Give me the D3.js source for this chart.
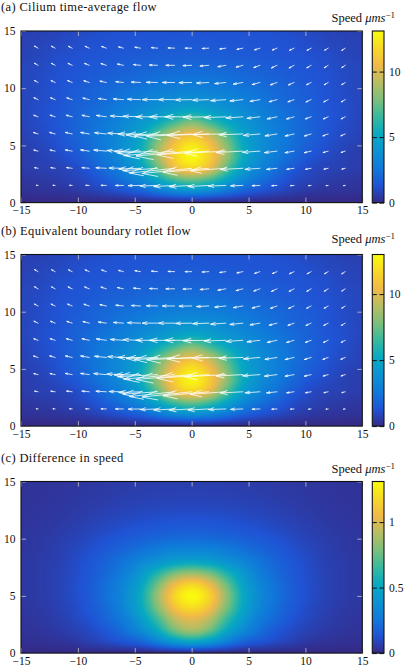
<!DOCTYPE html>
<html>
<head>
<meta charset="utf-8">
<script src="https://cdn.jsdelivr.net/npm/d3@7"></script>
<style>
  body { margin: 0; background: #fff; }
  svg { display: block; }
  svg text { font-family: "Liberation Serif", "DejaVu Serif", "Times New Roman", serif !important; fill: #111; }
</style>
</head>
<body>
<svg id="chart" width="404" height="667"></svg>
<script>
// ---------------- data ----------------
const titles = ["(a) Cilium time-average flow", "(b) Equivalent boundary rotlet flow", "(c) Difference in speed"];
const xTicks = [-15, -10, -5, 0, 5, 10, 15];
const yTicks = [0, 5, 10, 15];
const cbarTicksSpeed = [0, 5, 10];
const cbarTicksDiff = [0, 0.5, 1];
const cbarMax = [13.1, 13.0, 1.31];

// speed field samples (µm/s): rows y = 0,1,...,15 ; columns x = -15,-13.5,...,15
const heatX = [-15, -13.5, -12, -10.5, -9, -7.5, -6, -4.5, -3, -1.5, 0, 1.5, 3, 4.5, 6, 7.5, 9, 10.5, 12, 13.5, 15];
const heatY = [0, 1, 2, 3, 4, 5, 6, 7, 8, 9, 10, 11, 12, 13, 14, 15];

const speedA = [
  [0,0,0,0,0,0,0,0,0,0,0,0,0,0,0,0,0,0,0,0,0],
  [0.25,0.3,0.35,0.45,0.65,0.95,1.3,1.8,2.6,3.4,3.8,3.4,2.6,1.8,1.3,0.95,0.65,0.45,0.35,0.3,0.25],
  [0.4,0.5,0.6,0.8,1.1,1.7,2.4,3.4,5.1,6.8,7.6,6.8,5.1,3.4,2.4,1.7,1.1,0.8,0.6,0.5,0.4],
  [0.6,0.7,0.8,1.0,1.5,2.3,3.2,4.6,7.3,10.5,11.6,10.5,7.3,4.6,3.2,2.3,1.5,1.0,0.8,0.7,0.6],
  [0.6,0.75,1.0,1.35,2.0,2.7,3.7,5.4,8.6,11.5,13.0,11.5,8.6,5.4,3.7,2.7,2.0,1.35,1.0,0.75,0.6],
  [0.7,0.88,1.2,1.65,2.2,2.9,3.8,5.3,8.3,11.0,12.4,11.0,8.3,5.3,3.8,2.9,2.2,1.65,1.2,0.88,0.7],
  [0.8,1.0,1.3,1.8,2.3,2.9,3.7,4.8,7.1,9.5,10.6,9.5,7.1,4.8,3.7,2.9,2.3,1.8,1.3,1.0,0.8],
  [0.85,1.1,1.4,1.8,2.25,2.75,3.4,4.2,5.3,6.8,8.0,6.8,5.3,4.2,3.4,2.75,2.25,1.8,1.4,1.1,0.85],
  [0.9,1.15,1.4,1.75,2.1,2.5,3.0,3.55,4.1,4.75,5.2,4.75,4.1,3.55,3.0,2.5,2.1,1.75,1.4,1.15,0.9],
  [0.9,1.1,1.3,1.65,1.9,2.2,2.6,3.0,3.4,3.75,3.9,3.75,3.4,3.0,2.6,2.2,1.9,1.65,1.3,1.1,0.9],
  [0.9,1.05,1.3,1.55,1.78,2.05,2.3,2.5,2.75,2.9,3.0,2.9,2.75,2.5,2.3,2.05,1.78,1.55,1.3,1.05,0.9],
  [0.9,1.05,1.25,1.38,1.55,1.75,1.95,2.1,2.3,2.4,2.45,2.4,2.3,2.1,1.95,1.75,1.55,1.38,1.25,1.05,0.9],
  [0.88,1.0,1.18,1.33,1.45,1.58,1.7,1.82,1.9,1.97,2.0,1.97,1.9,1.82,1.7,1.58,1.45,1.33,1.18,1.0,0.88],
  [0.8,0.9,1.1,1.22,1.33,1.4,1.48,1.56,1.63,1.68,1.7,1.68,1.63,1.56,1.48,1.4,1.33,1.22,1.1,0.9,0.8],
  [0.75,0.85,0.95,1.1,1.22,1.31,1.35,1.4,1.45,1.48,1.5,1.48,1.45,1.4,1.35,1.31,1.22,1.1,0.95,0.85,0.75],
  [0.68,0.75,0.85,0.98,1.1,1.2,1.29,1.31,1.33,1.34,1.35,1.34,1.33,1.31,1.29,1.2,1.1,0.98,0.85,0.75,0.68]
];

const speedB = [
  [0,0,0,0,0,0,0,0,0,0,0,0,0,0,0,0,0,0,0,0,0],
  [0.25,0.3,0.35,0.45,0.65,0.95,1.28,1.75,2.5,3.25,3.6,3.25,2.5,1.75,1.28,0.95,0.65,0.45,0.35,0.3,0.25],
  [0.4,0.5,0.6,0.8,1.1,1.7,2.35,3.3,4.9,6.5,7.3,6.5,4.9,3.3,2.35,1.7,1.1,0.8,0.6,0.5,0.4],
  [0.6,0.7,0.8,1.0,1.5,2.3,3.15,4.5,7.1,10.2,11.3,10.2,7.1,4.5,3.15,2.3,1.5,1.0,0.8,0.7,0.6],
  [0.6,0.75,1.0,1.35,2.0,2.7,3.65,5.3,8.4,11.3,12.8,11.3,8.4,5.3,3.65,2.7,2.0,1.35,1.0,0.75,0.6],
  [0.7,0.88,1.2,1.65,2.2,2.9,3.75,5.15,8.0,10.7,12.1,10.7,8.0,5.15,3.75,2.9,2.2,1.65,1.2,0.88,0.7],
  [0.8,1.0,1.3,1.8,2.3,2.9,3.65,4.65,6.9,9.2,10.3,9.2,6.9,4.65,3.65,2.9,2.3,1.8,1.3,1.0,0.8],
  [0.85,1.1,1.4,1.8,2.25,2.75,3.35,4.1,5.15,6.6,7.75,6.6,5.15,4.1,3.35,2.75,2.25,1.8,1.4,1.1,0.85],
  [0.9,1.15,1.4,1.75,2.1,2.5,2.95,3.5,4.0,4.65,5.05,4.65,4.0,3.5,2.95,2.5,2.1,1.75,1.4,1.15,0.9],
  [0.9,1.1,1.3,1.65,1.9,2.2,2.6,3.0,3.4,3.75,3.9,3.75,3.4,3.0,2.6,2.2,1.9,1.65,1.3,1.1,0.9],
  [0.9,1.05,1.3,1.55,1.78,2.05,2.3,2.5,2.75,2.9,3.0,2.9,2.75,2.5,2.3,2.05,1.78,1.55,1.3,1.05,0.9],
  [0.9,1.05,1.25,1.38,1.55,1.75,1.95,2.1,2.3,2.4,2.45,2.4,2.3,2.1,1.95,1.75,1.55,1.38,1.25,1.05,0.9],
  [0.88,1.0,1.18,1.33,1.45,1.58,1.7,1.82,1.9,1.97,2.0,1.97,1.9,1.82,1.7,1.58,1.45,1.33,1.18,1.0,0.88],
  [0.8,0.9,1.1,1.22,1.33,1.4,1.48,1.56,1.63,1.68,1.7,1.68,1.63,1.56,1.48,1.4,1.33,1.22,1.1,0.9,0.8],
  [0.75,0.85,0.95,1.1,1.22,1.31,1.35,1.4,1.45,1.48,1.5,1.48,1.45,1.4,1.35,1.31,1.22,1.1,0.95,0.85,0.75],
  [0.68,0.75,0.85,0.98,1.1,1.2,1.29,1.31,1.33,1.34,1.35,1.34,1.33,1.31,1.29,1.2,1.1,0.98,0.85,0.75,0.68]
];

const speedDiff = [
  [0,0,0,0,0,0,0,0,0,0,0,0,0,0,0,0,0,0,0,0,0],
  [0.02,0.02,0.03,0.04,0.07,0.1,0.14,0.19,0.3,0.43,0.5,0.43,0.3,0.19,0.14,0.1,0.07,0.04,0.03,0.02,0.02],
  [0.03,0.035,0.05,0.07,0.1,0.15,0.23,0.35,0.53,0.77,0.88,0.77,0.53,0.35,0.23,0.15,0.1,0.07,0.05,0.035,0.03],
  [0.035,0.045,0.06,0.09,0.13,0.2,0.28,0.44,0.67,0.93,1.02,0.93,0.67,0.44,0.28,0.2,0.13,0.09,0.06,0.045,0.035],
  [0.04,0.05,0.07,0.1,0.15,0.22,0.33,0.51,0.8,1.09,1.2,1.09,0.8,0.51,0.33,0.22,0.15,0.1,0.07,0.05,0.04],
  [0.045,0.055,0.075,0.11,0.16,0.24,0.34,0.53,0.85,1.17,1.31,1.17,0.85,0.53,0.34,0.24,0.16,0.11,0.075,0.055,0.045],
  [0.045,0.055,0.075,0.11,0.16,0.23,0.33,0.49,0.77,1.05,1.17,1.05,0.77,0.49,0.33,0.23,0.16,0.11,0.075,0.055,0.045],
  [0.045,0.055,0.075,0.105,0.15,0.21,0.29,0.42,0.6,0.78,0.85,0.78,0.6,0.42,0.29,0.21,0.15,0.105,0.075,0.055,0.045],
  [0.045,0.055,0.07,0.1,0.14,0.19,0.25,0.33,0.4,0.47,0.5,0.47,0.4,0.33,0.25,0.19,0.14,0.1,0.07,0.055,0.045],
  [0.04,0.05,0.065,0.09,0.12,0.16,0.2,0.24,0.29,0.32,0.33,0.32,0.29,0.24,0.2,0.16,0.12,0.09,0.065,0.05,0.04],
  [0.04,0.045,0.06,0.078,0.1,0.13,0.155,0.18,0.2,0.215,0.22,0.215,0.2,0.18,0.155,0.13,0.1,0.078,0.06,0.045,0.04],
  [0.036,0.042,0.052,0.066,0.082,0.1,0.12,0.135,0.148,0.157,0.16,0.157,0.148,0.135,0.12,0.1,0.082,0.066,0.052,0.042,0.036],
  [0.033,0.038,0.045,0.056,0.068,0.08,0.093,0.104,0.113,0.119,0.12,0.119,0.113,0.104,0.093,0.08,0.068,0.056,0.045,0.038,0.033],
  [0.03,0.034,0.04,0.047,0.056,0.066,0.075,0.082,0.087,0.09,0.09,0.09,0.087,0.082,0.075,0.066,0.056,0.047,0.04,0.034,0.03],
  [0.028,0.031,0.036,0.042,0.049,0.056,0.063,0.068,0.072,0.074,0.075,0.074,0.072,0.068,0.063,0.056,0.049,0.042,0.036,0.031,0.028],
  [0.026,0.029,0.033,0.038,0.044,0.05,0.055,0.059,0.062,0.064,0.065,0.064,0.062,0.059,0.055,0.05,0.044,0.038,0.033,0.029,0.026]
];

// quiver arrows: tails at (arrowX, arrowY); speed (µm/s) and direction (deg above the leftward direction)
const arrowX = [-13.5, -12, -10.5, -9, -7.5, -6, -4.5, -3, -1.5, 0, 1.5, 3, 4.5, 6, 7.5, 9, 10.5, 12, 13.5];
const arrowY = [1.5, 3, 4.5, 6, 7.5, 9, 10.5, 12, 13.5];
const arrowSpeed = [
  [0.4, 0.5, 0.6, 0.8, 1.2, 1.8, 2.8, 4.0, 4.8, 5.2, 4.8, 4.0, 2.8, 1.8, 1.2, 0.8, 0.6, 0.5, 0.4],
  [0.8, 1.0, 1.3, 1.7, 2.4, 3.3, 5.0, 8.0, 10.5, 11.5, 10.6, 8.2, 5.2, 3.4, 2.4, 1.7, 1.3, 1.0, 0.8],
  [1.0, 1.2, 1.6, 2.0, 2.9, 3.8, 6.0, 9.2, 11.8, 12.9, 12.0, 9.5, 6.2, 4.0, 2.9, 2.1, 1.6, 1.2, 1.0],
  [1.1, 1.3, 1.6, 2.0, 2.7, 3.6, 5.2, 7.2, 9.3, 10.4, 9.6, 7.8, 5.5, 3.8, 2.8, 2.1, 1.6, 1.3, 1.1],
  [1.05, 1.2, 1.4, 1.7, 2.3, 3.0, 4.0, 5.0, 5.8, 6.2, 5.9, 5.0, 3.9, 3.0, 2.3, 1.8, 1.4, 1.2, 1.05],
  [1.05, 1.15, 1.3, 1.5, 1.85, 2.3, 3.0, 3.5, 3.7, 3.7, 3.7, 3.5, 3.0, 2.3, 1.85, 1.5, 1.3, 1.15, 1.05],
  [0.95, 1.05, 1.15, 1.3, 1.5, 1.75, 2.1, 2.55, 2.8, 2.9, 2.8, 2.55, 2.2, 1.85, 1.6, 1.4, 1.15, 1.05, 0.95],
  [0.95, 0.95, 1.05, 1.15, 1.3, 1.4, 1.6, 1.85, 2.0, 2.0, 2.0, 1.85, 1.6, 1.5, 1.4, 1.3, 1.15, 1.05, 0.95],
  [0.95, 0.95, 0.95, 1.05, 1.15, 1.15, 1.3, 1.4, 1.5, 1.5, 1.5, 1.4, 1.4, 1.3, 1.15, 1.15, 1.05, 0.95, 0.95]
];
const arrowAngle = [
  [5, 4, 3, 2, 1, 0, -1, -2, -3, -3, -3, -2, -2, -2, -3, -4, -5, -6, -7],
  [10, 8, 7, 5, 3, 1, -2, -4, -6, -6, -5, -4, -3, -4, -6, -8, -10, -12, -14],
  [14, 12, 10, 8, 5, 2, -1, -3, -5, -5, -4, -3, -3, -4, -7, -10, -13, -16, -18],
  [18, 16, 13, 10, 6, 3, 0, -2, -3, -3, -2, -1, -2, -5, -9, -13, -17, -20, -23],
  [20, 18, 15, 12, 8, 4, 2, 0, 0, 0, -1, -2, -4, -7, -12, -16, -20, -24, -27],
  [25, 22, 18, 14, 8, 4, 2, 0, 0, -1, -2, -4, -6, -10, -15, -20, -24, -27, -30],
  [28, 25, 22, 18, 12, 6, 3, 1, 0, -1, -3, -6, -10, -15, -20, -24, -27, -30, -32],
  [30, 28, 25, 22, 18, 12, 6, 2, 0, -2, -5, -10, -15, -20, -25, -28, -30, -32, -33],
  [30, 28, 26, 24, 20, 15, 10, 5, 2, 0, -3, -8, -12, -18, -22, -25, -28, -30, -32]
];

// parula colormap stops
const parula = ["#352a87", "#2053d4", "#1079da", "#0c93d2", "#07a9c2", "#38b99e",
                "#7cbf7b", "#b7bd64", "#f1b94a", "#f7d826", "#f9fb0e"];

// ---------------- layout ----------------
const PL = 21, PR = 362.3, PH = 171.6;
const tops = [31, 254.5, 481.5];
const CBL = 372.3, CBR = 384;
const labelDY = [-13, -15.5, -12.5];
const ARROW_SCALE = 0.38;   // data units per µm/s

const panels = [
  { grid: speedA, max: cbarMax[0], ticks: cbarTicksSpeed, arrows: true },
  { grid: speedB, max: cbarMax[1], ticks: cbarTicksSpeed, arrows: true },
  { grid: speedDiff, max: cbarMax[2], ticks: cbarTicksDiff, arrows: false }
];

const svg = d3.select("#chart");
const defs = svg.append("defs");
const grad = defs.append("linearGradient").attr("id", "cbgrad")
  .attr("x1", 0).attr("y1", 1).attr("x2", 0).attr("y2", 0);
parula.forEach((c, i) => grad.append("stop")
  .attr("offset", i / (parula.length - 1)).attr("stop-color", c));

const cmap = d3.piecewise(d3.interpolateRgb, parula);

function cr(p0, p1, p2, p3, t) {
  return 0.5 * (2 * p1 + (-p0 + p2) * t + (2 * p0 - 5 * p1 + 4 * p2 - p3) * t * t +
    (-p0 + 3 * p1 - 3 * p2 + p3) * t * t * t);
}
function sample(grid, gx, gy) {
  const ny = grid.length, nx = grid[0].length;
  const i = Math.max(0, Math.min(nx - 2, Math.floor(gx)));
  const j = Math.max(0, Math.min(ny - 2, Math.floor(gy)));
  const tx = gx - i, ty = gy - j;
  const g = (jj, ii) => grid[Math.max(0, Math.min(ny - 1, jj))][Math.max(0, Math.min(nx - 1, ii))];
  const r = [];
  for (let m = -1; m <= 2; m++) r.push(cr(g(j + m, i - 1), g(j + m, i), g(j + m, i + 1), g(j + m, i + 2), tx));
  return cr(r[0], r[1], r[2], r[3], ty);
}

panels.forEach((p, k) => {
  const top = tops[k], bottom = top + PH;
  const x = d3.scaleLinear().domain([-15, 15]).range([PL, PR]);
  const y = d3.scaleLinear().domain([0, 15]).range([bottom, top]);
  const color = d3.scaleSequential(cmap).domain([0, p.max]).clamp(true);
  const gxs = d3.scaleLinear().domain(d3.extent(heatX)).range([0, heatX.length - 1]);
  const gys = d3.scaleLinear().domain(d3.extent(heatY)).range([0, heatY.length - 1]);

  // title
  svg.append("text").attr("x", 1).attr("y", top - 20)
    .attr("font-size", 12.5).attr("letter-spacing", 0.35).text(titles[k]);

  // heat map raster
  const W = Math.round(PR - PL) * 2, H = Math.round(PH) * 2;
  const canvas = document.createElement("canvas");
  canvas.width = W; canvas.height = H;
  const ctx = canvas.getContext("2d");
  const img = ctx.createImageData(W, H);
  const xs = x.copy().range([0, W]), ys = y.copy().range([H, 0]);
  for (let py = 0; py < H; py++) {
    const gy = gys(ys.invert(py + 0.5));
    for (let px = 0; px < W; px++) {
      const gx = gxs(xs.invert(px + 0.5));
      const v = Math.max(0, sample(p.grid, gx, gy));
      const c = d3.rgb(color(v));
      const o = (py * W + px) * 4;
      img.data[o] = c.r; img.data[o + 1] = c.g; img.data[o + 2] = c.b; img.data[o + 3] = 255;
    }
  }
  ctx.putImageData(img, 0, 0);
  svg.append("image").attr("href", canvas.toDataURL())
    .attr("x", PL).attr("y", top).attr("width", PR - PL).attr("height", PH)
    .attr("preserveAspectRatio", "none");

  // arrows
  if (p.arrows) {
    const clipId = "clip" + k;
    defs.append("clipPath").attr("id", clipId).append("rect")
      .attr("x", PL).attr("y", top).attr("width", PR - PL).attr("height", PH);
    const ag = svg.append("g").attr("clip-path", `url(#${clipId})`)
      .attr("stroke", "#fff").attr("stroke-width", 0.85).attr("fill", "none")
      .attr("stroke-opacity", 0.92).attr("stroke-linecap", "round");
    arrowY.forEach((yy, j) => arrowX.forEach((xx, i) => {
      const s = arrowSpeed[j][i], a = arrowAngle[j][i] * Math.PI / 180;
      const u = -s * Math.cos(a), v = s * Math.sin(a);
      const x0 = x(xx), y0 = y(yy);
      const x1 = x(xx + u * ARROW_SCALE), y1 = y(yy + v * ARROW_SCALE);
      const dx = x1 - x0, dy = y1 - y0;
      const hl = 0.3, hw = 0.3 * 0.3;
      const hx1 = x1 - hl * dx + hw * dy, hy1 = y1 - hl * dy - hw * dx;
      const hx2 = x1 - hl * dx - hw * dy, hy2 = y1 - hl * dy + hw * dx;
      ag.append("path").attr("d",
        `M${x0},${y0}L${x1},${y1}M${hx1},${hy1}L${x1},${y1}L${hx2},${hy2}`);
    }));
  }

  // axes (ticks inside)
  const tickStyle = g => {
    g.attr("font-family", null).attr("font-size", null);
    g.select(".domain").remove();
    g.selectAll(".tick line").attr("stroke", "#c4c4cc").attr("stroke-width", 0.8);
    g.selectAll(".tick text").attr("font-size", 11.5).attr("fill", "#111");
  };
  svg.append("g").attr("transform", `translate(0,${bottom})`)
    .call(d3.axisBottom(x).tickValues(xTicks).tickSizeInner(-5).tickSizeOuter(0).tickPadding(3.5))
    .call(tickStyle);
  svg.append("g").attr("transform", `translate(0,${top})`)
    .call(d3.axisTop(x).tickValues(xTicks).tickSizeInner(-5).tickSizeOuter(0).tickFormat(""))
    .call(tickStyle);
  svg.append("g").attr("transform", `translate(${PL},0)`)
    .call(d3.axisLeft(y).tickValues(yTicks).tickSizeInner(-5).tickSizeOuter(0).tickPadding(5.5))
    .call(tickStyle);
  svg.append("g").attr("transform", `translate(${PR},0)`)
    .call(d3.axisRight(y).tickValues(yTicks).tickSizeInner(-5).tickSizeOuter(0).tickFormat(""))
    .call(tickStyle);

  svg.append("rect").attr("x", PL).attr("y", top).attr("width", PR - PL).attr("height", PH)
    .attr("fill", "none").attr("stroke", "#111").attr("stroke-width", 1.1);

  // colorbar
  const cb = d3.scaleLinear().domain([0, p.max]).range([bottom, top]);
  svg.append("rect").attr("x", CBL).attr("y", top).attr("width", CBR - CBL).attr("height", PH)
    .attr("fill", "url(#cbgrad)");
  const cbStyle = g => {
    g.attr("font-family", null).attr("font-size", null);
    g.select(".domain").remove();
    g.selectAll(".tick line").attr("stroke", "#111").attr("stroke-width", 1);
    g.selectAll(".tick text").attr("font-size", 11.5).attr("fill", "#111");
  };
  svg.append("g").attr("transform", `translate(${CBR},0)`)
    .call(d3.axisRight(cb).tickValues(p.ticks).tickSizeInner(-4.5).tickSizeOuter(0)
      .tickPadding(5).tickFormat(d3.format("~g")))
    .call(cbStyle);
  svg.append("g").attr("transform", `translate(${CBL},0)`)
    .call(d3.axisLeft(cb).tickValues(p.ticks).tickSizeInner(-4.5).tickSizeOuter(0).tickFormat(""))
    .call(cbStyle);
  svg.append("rect").attr("x", CBL).attr("y", top).attr("width", CBR - CBL).attr("height", PH)
    .attr("fill", "none").attr("stroke", "#111").attr("stroke-width", 1.1);

  // colorbar label
  const lab = svg.append("text").attr("x", 395).attr("y", top + labelDY[k] + 4)
    .attr("text-anchor", "end").attr("font-size", 12.5);
  lab.append("tspan").text("Speed ");
  lab.append("tspan").attr("font-style", "italic").text("μms");
  lab.append("tspan").attr("font-size", 9).attr("dy", -4.5).text("−1");
});
</script>
</body>
</html>
